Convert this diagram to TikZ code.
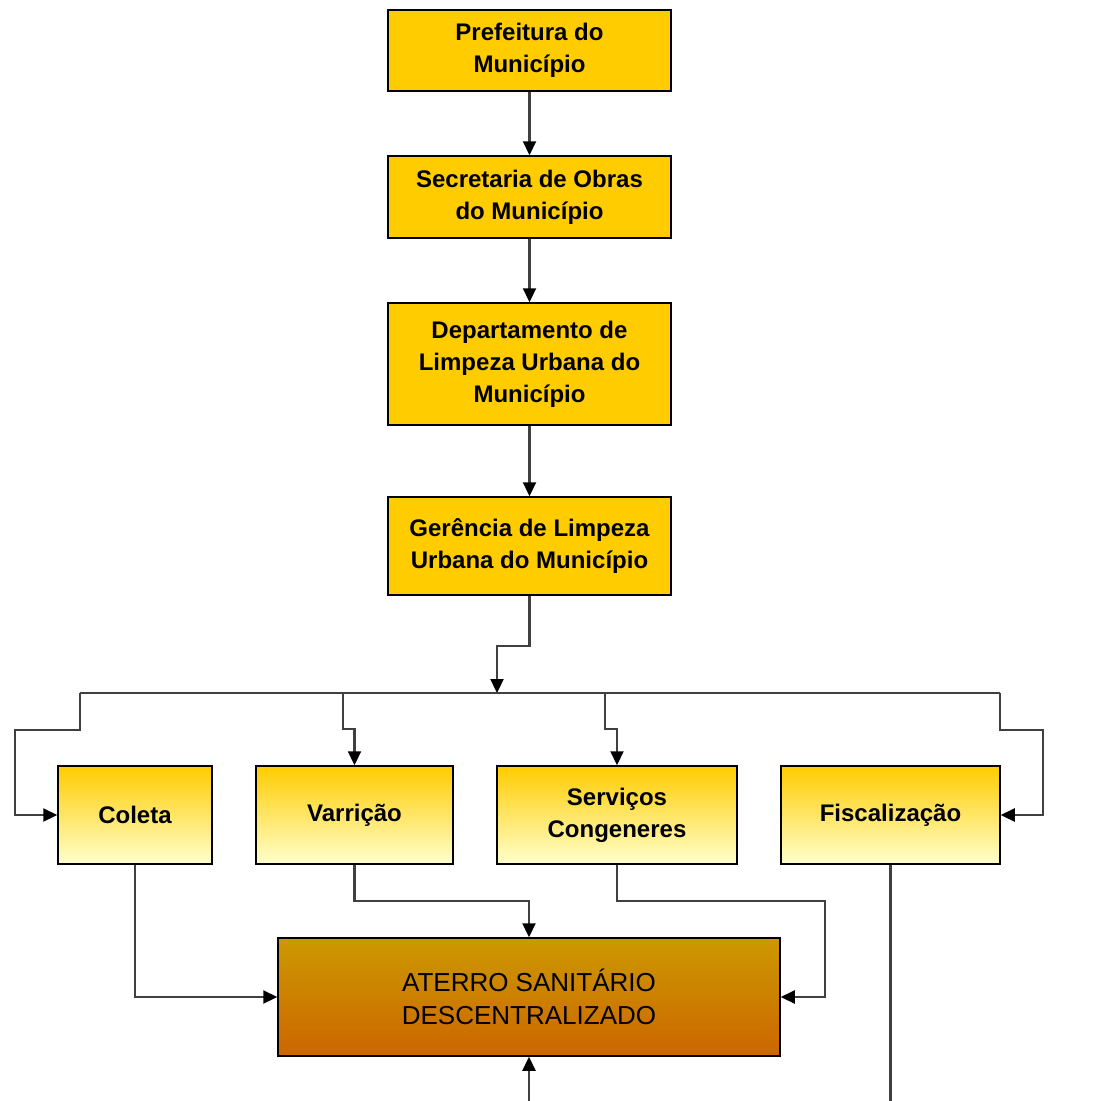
\documentclass[tikz,border=0pt]{standalone}
\usepackage{fontspec}
\setmainfont{Liberation Sans}
\usetikzlibrary{arrows.meta}
\definecolor{ouro}{RGB}{255,204,0}
\definecolor{creme}{RGB}{255,255,204}
\definecolor{ocre}{RGB}{204,153,0}
\definecolor{laranja}{RGB}{204,102,0}
\definecolor{linha}{RGB}{64,64,64}

\begin{document}
\begin{tikzpicture}[x=1pt, y=-1pt,
  chefe/.style={draw=black, line width=1.5pt, fill=ouro, minimum width=283pt, inner sep=0pt, align=center, font=\bfseries\fontsize{24}{32}\selectfont},
  servico/.style={draw=black, line width=1.5pt, top color=ouro, bottom color=creme, minimum height=98pt, inner sep=0pt, align=center, font=\bfseries\fontsize{24}{32}\selectfont},
  liga/.style={draw=linha, line width=2.2pt, -{Triangle[length=14pt, width=13pt, color=black]}},
  barra/.style={draw=linha, line width=2.2pt}]
\useasboundingbox (0,0) rectangle (1094,1101);

\node (pref) at (529.5,50.5) [chefe, minimum height=81pt] {Prefeitura do\\Município};
\node (secr) at (529.5,197) [chefe, minimum height=82pt] {Secretaria de Obras\\do Município};
\node (dept) at (529.5,364) [chefe, minimum height=122pt] {Departamento de\\Limpeza Urbana do\\Município};
\node (ger) at (529.5,546) [chefe, minimum height=98pt] {Gerência de Limpeza\\Urbana do Município};

\foreach \nm/\x/\w/\txt in {coleta/135/154/Coleta, varr/354.5/197/Varrição, serv/617/240/{Serviços\\Congeneres}, fisc/890.5/219/Fiscalização}
\node (\nm) at (\x,815) [servico, minimum width=\w pt] {\txt};

\node (aterro) at (529,997) [draw=black, line width=1.5pt, top color=ocre, bottom color=laranja, minimum width=502pt, minimum height=118pt, inner sep=0pt, align=center, font=\fontsize{26}{33}\selectfont] {ATERRO SANITÁRIO\\DESCENTRALIZADO};

\coordinate (busL) at (80,693);
\coordinate (busR) at (1000,693);
\coordinate (split) at (497,693);
\coordinate (vTap) at (343,693);
\coordinate (sTap) at (605,693);
\coordinate (fiscEnd) at (890.5,1101);
\coordinate (aterroIn) at (529,1101);

\draw [liga] (pref) -- (secr);
\draw [liga] (secr) -- (dept);
\draw [liga] (dept) -- (ger);
\draw [liga] (ger.south) -- ++(0,50) -| (split);
\draw [barra] (busL) -- (busR);
\draw [liga] (busL) -- ++(0,37) -- ++(-65,0) |- (coleta.west);
\draw [liga] (vTap) -- ++(0,36) -| (varr.north);
\draw [liga] (sTap) -- ++(0,36) -| (serv.north);
\draw [liga] (busR) -- ++(0,37) -- ++(43,0) |- (fisc.east);

\draw [liga] (coleta.south) |- (aterro.west);
\draw [liga] (varr.south) -- ++(0,36) -| (aterro.north);
\draw [liga] (serv.south) -- ++(0,36) -- ++(208,0) |- (aterro.east);
\draw [barra] (fisc.south) -- (fiscEnd);
\draw [liga] (aterroIn) -- (aterro.south);
\end{tikzpicture}
\end{document}
